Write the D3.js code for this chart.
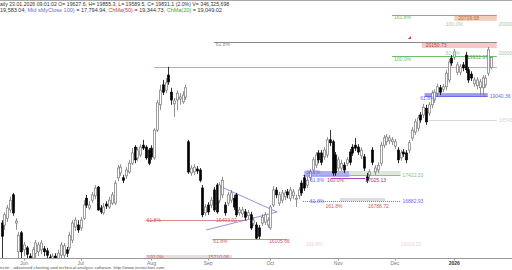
<!DOCTYPE html>
<html>
<head>
<meta charset="utf-8">
<script src="https://cdn.jsdelivr.net/npm/d3@7"></script>
<style>
body{margin:0;background:#fff;}
svg{display:block;font-family:"Liberation Sans",Arial,sans-serif;}
</style>
</head>
<body>
<svg id="chart" width="512" height="270"></svg>
<script>
// daily candles, late May 2025 .. 23 Jan 2026
var opens=[16430,16390,16530,16700,17010,16430,15840,16230,15880,15920,15750,15710,15810,15840,15880,15900,15860,15730,15670,15750,
15710,15770,15770,15880,15920,16080,16350,16390,16330,16530,16940,16740,16900,16990,17170,16740,16640,16820,16760,16840,
16840,17360,17460,17360,17400,17480,17660,17990,17770,17830,18030,17990,17930,17970,17770,18340,18860,19270,19160,19470,
19120,18880,18960,18980,18920,19020,18100,17460,17480,17540,17520,17150,16640,16800,16800,17110,17210,16900,17010,16800,
16840,16900,16940,17010,16640,16620,16660,16580,16600,16430,16390,16330,16430,16450,16390,16330,16800,17110,16840,16900,
16970,17070,16940,16990,16920,16990,17250,17360,17210,17360,17520,17620,17870,17870,17790,17830,18140,18100,17830,17560,
17560,17620,17660,17890,17990,18030,17990,17810,17790,17380,17420,17930,17480,17520,17660,18030,18100,18120,18100,18010,
17930,17770,17890,17870,17930,18180,18300,18380,18650,18650,18790,18690,18860,18960,19100,19210,19180,19230,19370,19820,
19840,19530,19530,19680,19880,19580,19490,19290,19250,19210,19210,19270,19510,19627.6];
var highs=[16490,16650,16800,16970,17050,16530,16250,16270,16040,15960,15810,15940,16080,16040,16080,15960,15920,15790,15810,15810,
15880,16040,16020,15940,16250,16490,16550,16490,16550,16900,17010,16880,17070,17210,17190,16800,16840,16880,16970,17070,
17310,17620,17640,17420,17580,17730,17970,18030,17990,18050,18140,18030,17970,18030,18380,18960,19270,19370,19410,19640,
19210,19000,19160,19100,19140,19270,18140,17620,17640,17600,17560,17210,16820,16860,16970,17170,17250,17270,17380,16860,
17070,17110,17010,17050,16760,16760,16720,16700,16660,16550,16450,16390,16620,16660,16550,16800,17190,17170,17070,17110,
17110,17130,17170,17130,17010,17170,17310,17420,17380,17540,17790,17890,17930,17930,17990,18200,18340,18140,17890,17790,
17730,17680,17790,17950,18050,18180,18050,17990,17850,17460,17540,17990,17620,17680,18100,18240,18260,18240,18200,18160,
17990,17930,17950,17930,18140,18400,18570,18650,18710,18880,18860,18920,19160,19180,19290,19270,19290,19580,19800,19880,
20010,19740,19700,19740,19950,19640,19550,19430,19430,19390,19470,19470,20050,19855.3];
var lows=[15710,16290,16450,16640,16580,16290,15670,15630,15750,15670,15550,15630,15670,15750,15790,15750,15670,15550,15590,15550,
15630,15670,15710,15730,15860,16020,16270,16230,16270,16490,16740,16700,16840,16920,16680,16620,16600,16720,16720,16800,
16800,17290,17400,17250,17340,17440,17620,17660,17710,17790,17930,17730,17620,17730,17730,18300,18750,19060,19100,19270,
18860,18610,18750,18860,18880,18960,17440,17400,17420,17440,17270,16550,16580,16600,16740,16660,16620,16840,16940,16580,
16780,16840,16700,16550,16580,16550,16490,16510,16290,16370,16100,16100,16370,16390,16330,16290,16760,16940,16780,16840,
16900,16940,16880,16920,16760,16920,16990,17090,17150,17290,17460,17560,17660,17620,17730,17770,18010,17400,17400,17500,
17500,17460,17600,17620,17810,17910,17830,17750,17500,17250,17360,17620,17420,17460,17600,17970,18030,18050,18030,17950,
17660,17710,17790,17660,17870,18120,18240,18320,18490,18590,18450,18630,18790,18900,19040,19060,19120,19160,19310,19660,
19780,19470,19470,19550,19510,19310,19350,19230,19180,19060,19060,19210,19450,19589.5];
var closes=[16160,16600,16740,16900,16640,16470,16180,15840,15980,15790,15630,15880,16020,15980,16020,15840,15770,15630,15750,15630,
15810,15980,15960,15810,16180,16430,16490,16290,16490,16800,16800,16800,17010,17150,16700,16660,16760,16780,16900,17010,
17250,17560,17580,17310,17520,17660,17870,17730,17930,17990,17970,17770,17660,17790,18340,18900,19160,19120,19310,19330,
18960,18940,19100,19020,19060,19210,17480,17560,17580,17500,17310,16600,16760,16660,16900,16700,16660,17210,17310,16640,
17010,17050,16760,16600,16700,16700,16550,16640,16330,16490,16120,16160,16550,16600,16490,16760,17110,17010,17010,17050,
17050,17010,17110,17070,16940,17110,17050,17150,17310,17480,17730,17830,17730,17680,17930,18140,18080,17460,17460,17730,
17660,17520,17730,17680,17870,17970,17890,17930,17560,17310,17480,17680,17560,17620,18030,18180,18200,18180,18140,18100,
17730,17870,17850,17730,18080,18340,18510,18590,18550,18810,18510,18860,19100,19120,19230,19120,19230,19510,19740,19720,
19950,19680,19640,19620,19580,19370,19410,19370,19370,19330,19410,19410,19990,19831.1];

var monthLabels=["Jun","Jul","Aug","Sep","Oct","Nov","Dec","2026"];
var monthBars=[8,28,53,73,95,119,139,160];

var headerLine1="aily 23.01.2026 09:01:02 O= 19627.6, H= 19855.3, L= 19589.5, C= 19831.1 (2.0%) V= 346,325,698";
var headerParts=[["19,583.04, ","#333"],["Mid sMyClose 100)","#6a6acc"],[" = 17,794.94, ","#333"],["ChMa(50)","#d04040"],[" = 19,344.73, ","#333"],["ChMa(20)","#33aa33"],[" = 19,049.02","#333"]];
var footer="ncite - advanced charting and technical analysis software. http://www.incitechart.com";

// horizontal fib / level lines
var levelFrom=[138,75,138,54,149.5,151,106.5,106.5];
var levelTo=[175,175,175,175,171.8,175,141,141];
var levelPrice=[20709.68,20150.73,19855,19640,19040.36,18548,17422.33,16882.93];
var levelColor=["#6cbf6c","#8a8a8a","#6cbf6c","#e090e0","#6a6aee","#d8d8d8","#8cbf8c","#6a6aee"];
var levelTextL=["161.8%","61.8%","100.0%","","","","",""];
var levelTextR=["","","","","19040.36","18548","17422.33","16882.93"];

// triangle pattern (upper edge, apex, lower edge)
var triBars=[76.2,97.4,72.3];
var triPrice=[17212,16657,16287];

var svg=d3.select('#chart');
var W=512,H=270;
var x=d3.scaleLinear().domain([0,173]).range([1.5,491.1]);
var y=d3.scaleLinear().domain([15712,20808]).range([258,10]);

var defs=svg.append('defs');
defs.append('clipPath').attr('id','clip').append('rect').attr('x',0).attr('y',1).attr('width',W).attr('height',257);

// top border
svg.append('line').attr('x1',0).attr('x2',W).attr('y1',0.5).attr('y2',0.5).attr('stroke','#aaa');

var plot=svg.append('g').attr('clip-path','url(#clip)');

// shaded boxes
var boxes=[
  {b0:160,b1:175,p0:20709.68,p1:20586,fill:'#f3cdb8',text:'20709.68',tc:'#b07030'},
  {b0:148.5,b1:175,p0:20150.73,p1:20027,fill:'#f8c8c8',text:'20150.73',tc:'#a05050'},
  {b0:149.5,b1:171.8,p0:19100,p1:19030,fill:'#9c9cee',text:'',tc:'#000'},
  {b0:107,b1:123,p0:17500,p1:17377,fill:'#b4acf2',text:'',tc:'#000'},
  {b0:123,b1:141,p0:17500,p1:17418,fill:'#dfe6df',text:'',tc:'#000'},
  {b0:119.6,b1:135.5,p0:16945,p1:16883,fill:'#dddddd',text:'',tc:'#000'},
  {b0:51,b1:81.5,p0:15774,p1:15700,fill:'#e6dede',text:'',tc:'#000'}
];
plot.selectAll('rect.box').data(boxes).enter().append('rect')
  .attr('x',d=>x(d.b0)).attr('width',d=>x(d.b1)-x(d.b0))
  .attr('y',d=>y(d.p0)).attr('height',d=>y(d.p1)-y(d.p0))
  .attr('fill',d=>d.fill);

plot.selectAll('line.lvl').data(levelPrice).enter().append('line')
  .attr('x1',(d,i)=>x(levelFrom[i])).attr('x2',(d,i)=>x(levelTo[i]))
  .attr('y1',d=>Math.round(y(d))+0.5).attr('y2',d=>Math.round(y(d))+0.5)
  .attr('stroke',(d,i)=>levelColor[i]).attr('stroke-width',1)
  .attr('stroke-dasharray',(d,i)=>i==7?'1,1':null);

// purple line under the blue box
plot.append('line').attr('x1',x(116.5)).attr('x2',x(128.5))
  .attr('y1',Math.round(y(17356))+0.5).attr('y2',Math.round(y(17356))+0.5).attr('stroke','#a050c0');

// red fib lines lower left
var redFrom=[51,74.5],redTo=[86.8,101],redPrice=[16493.02,16105.66];
plot.selectAll('line.red').data(redPrice).enter().append('line')
  .attr('x1',(d,i)=>x(redFrom[i])).attr('x2',(d,i)=>x(redTo[i]))
  .attr('y1',d=>Math.round(y(d))+0.5).attr('y2',d=>Math.round(y(d))+0.5)
  .attr('stroke','#e08888');

// triangle
plot.append('path')
  .attr('d',d3.line().x(d=>x(d[0])).y(d=>y(d[1]))(triBars.map((b,i)=>[b,triPrice[i]])))
  .attr('fill','none').attr('stroke','#7777dd').attr('stroke-width',0.8);

// candles
var idx=d3.range(opens.length);
var cw=1.9;
plot.selectAll('line.wick').data(idx).enter().append('line')
  .attr('x1',i=>Math.round(x(i))+0.5).attr('x2',i=>Math.round(x(i))+0.5)
  .attr('y1',i=>y(highs[i])).attr('y2',i=>y(lows[i]))
  .attr('stroke',i=>closes[i]<opens[i]?'#000':'#777').attr('stroke-width',0.8);
plot.selectAll('rect.body').data(idx).enter().append('rect')
  .attr('x',i=>Math.round(x(i))+0.5-cw/2).attr('width',cw)
  .attr('y',i=>y(Math.max(opens[i],closes[i])))
  .attr('height',i=>Math.max(1,y(Math.min(opens[i],closes[i]))-y(Math.max(opens[i],closes[i]))))
  .attr('fill',i=>closes[i]<opens[i]?'#000':'#fff')
  .attr('stroke',i=>closes[i]<opens[i]?'#000':'#777').attr('stroke-width',0.7);

// small red arrow near the 61.8% line
svg.append('path').attr('d','M'+(x(144.3)-2)+','+(y(20233)+1)+'l3,-3l0,3z').attr('fill','#e03030');

// level labels
var lab=svg.append('g').style('font-size','5px');
levelPrice.forEach(function(p,i){
  if(levelTextL[i]) lab.append('text').attr('x',x(levelFrom[i])+2).attr('y',y(p)+4.5).attr('fill',levelColor[i]).text(levelTextL[i]);
  if(levelTextR[i]) lab.append('text').attr('x',x(levelTo[i])+2).attr('y',y(p)+2).attr('fill',levelColor[i]).text(levelTextR[i]);
});
boxes.forEach(function(d){
  if(d.text) lab.append('text').attr('x',x(d.b0)+4).attr('y',y(d.p0)+5).attr('fill',d.tc).text(d.text);
});
function note(b,p,t,c,dy){lab.append('text').attr('x',x(b)).attr('y',y(p)+(dy||0)).attr('fill',c).text(t);}
note(157,20586,'100.0%','#a8c8a8',5);
note(175.6,20586,'20000','#a8c8a8',5);
note(157,19960,'61.8%','#a8c8a8',4);
note(175.6,19960,'20000','#a8c8a8',4);
note(164.5,19855,'19932.97','#55aa55',3);
note(148,19040.36,'61.8%','#6a6aee',4);
note(51.3,16493.02,'61.8%','#d06060',2);
note(75.8,16493.02,'16493.02','#d06060',2);
note(74.8,16105.66,'61.8%','#d06060',4.5);
note(94.5,16105.66,'16105.66','#d06060',4.5);
note(51.3,15774,'100.0%','#d06060',4.5);
note(73,15774,'15710.06','#d06060',4.5);
note(107.6,17500,'38.2%','#6a6aee',3.4);
note(109,17422.33,'61.8%','#6a6aee',7.2);
note(115,17377,'160.0%','#c04060',5.5);
note(128.5,17377,'17025.13','#a03070',5.5);
note(109,16882.93,'61.8%','#6a6aee',2);
note(114.5,16882.93,'161.8%','#c06060',7);
note(129.5,16882.93,'16788.72','#c06060',7);
note(107.5,16010,'161.8%','#f4d0d0',3);
note(141,16010,'16020.32','#f4d0d0',3);

// x axis
var axisY=258.5;
svg.append('line').attr('x1',0).attr('x2',W).attr('y1',axisY).attr('y2',axisY).attr('stroke','#999');
var ax=svg.append('g').style('font-size','5px');
monthBars.forEach(function(b,i){
  svg.append('line').attr('x1',Math.round(x(b))+0.5).attr('x2',Math.round(x(b))+0.5).attr('y1',axisY).attr('y2',axisY+2).attr('stroke','#999');
  ax.append('text').attr('x',x(b)).attr('y',265).attr('text-anchor','middle')
    .style('font-weight',i==7?'bold':null).attr('fill',i==7?'#333':'#777').text(monthLabels[i]);
});

// header
svg.append('text').attr('x',0).attr('y',6).style('font-size','5.2px').attr('fill','#333').text(headerLine1);
var h2=svg.append('text').attr('x',0).attr('y',12).style('font-size','5.5px');
headerParts.forEach(function(p){h2.append('tspan').attr('fill',p[1]).text(p[0]);});

svg.append('text').attr('x',0).attr('y',269).style('font-size','4.4px').attr('fill','#555').text(footer);
</script>
</body>
</html>
